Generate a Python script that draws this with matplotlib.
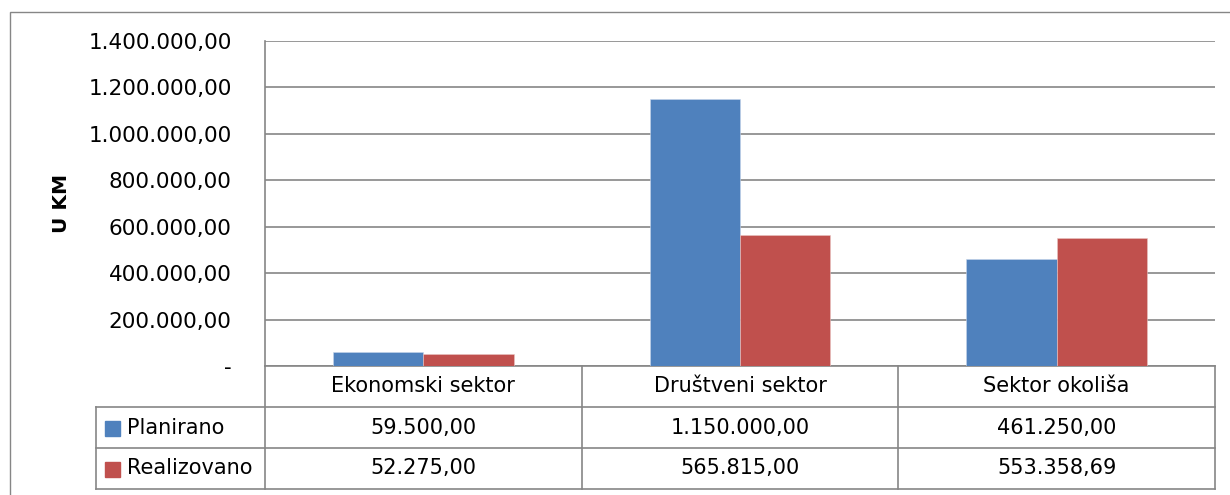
import matplotlib
matplotlib.use("Agg")
import matplotlib.pyplot as plt
import numpy as np
from matplotlib.patches import Rectangle
from matplotlib.lines import Line2D
from matplotlib.ticker import FuncFormatter, MultipleLocator

categories = ["Ekonomski sektor", "Društveni sektor", "Sektor okoliša"]
series_names = ["Planirano", "Realizovano"]
planirano = [59500.00, 1150000.00, 461250.00]
realizovano = [52275.00, 565815.00, 553358.69]
y_label = "U KM"

colors = ["#4F81BD", "#C0504D"]
grid_c = "#868686"

W, H = 1230, 495
fig = plt.figure(figsize=(W / 100, H / 100), dpi=100)
plt.rcParams['font.family'] = ['DejaVu Sans']

# outer chart border
fig.add_artist(Rectangle((10 / W, -0.1), 1.2, 1 - 12 / H + 0.1, transform=fig.transFigure,
                         fill=False, edgecolor=grid_c, linewidth=1.0))

L, R, T, B = 265, 1215, 41, 366
ax = fig.add_axes([L / W, 1 - B / H, (R - L) / W, (B - T) / H])


def fmt_num(v):
    s = f"{v:,.2f}"
    return s.replace(",", "X").replace(".", ",").replace("X", ".")


def tick_fmt(v, pos):
    if abs(v) < 1e-9:
        return "-"
    return fmt_num(v)


x = np.arange(len(categories))
bw = 1 / 3.5
ax.bar(x - bw / 2, planirano, bw, color=colors[0], edgecolor="#c8d6ea", linewidth=0.4, zorder=3)
ax.bar(x + bw / 2, realizovano, bw, color=colors[1], edgecolor="#e8c4c3", linewidth=0.4, zorder=3)

ax.set_xlim(-0.5, len(categories) - 0.5)
ax.set_ylim(0, 1400000)
ax.yaxis.set_major_locator(MultipleLocator(200000))
ax.yaxis.set_major_formatter(FuncFormatter(tick_fmt))
ax.grid(axis="y", color=grid_c, linewidth=1.2, zorder=0)
ax.set_xticks([])
ax.tick_params(axis="y", length=0, pad=24, labelsize=15.5)
for s in ["top", "right"]:
    ax.spines[s].set_visible(False)
for s in ["left", "bottom"]:
    ax.spines[s].set_color(grid_c)
    ax.spines[s].set_linewidth(1.2)

ax.set_ylabel(y_label, fontsize=14.5, fontweight="bold")
ax.yaxis.set_label_coords((71 - L) / (R - L), 0.5)

# data table below
rh = 41 / (B - T)
left_col = (96 - L) / (R - L)
ax_w = R - L
bt = ax.get_xaxis_transform()
lkw = dict(color=grid_c, linewidth=1.2, clip_on=False)
for b in np.arange(len(categories) + 1) - 0.5:
    ax.add_line(Line2D([b, b], [0, -3 * rh], transform=bt, **lkw))
for r in [1, 2, 3]:
    ax.add_line(Line2D([left_col, 1], [-r * rh, -r * rh], transform=ax.transAxes, **lkw))
ax.add_line(Line2D([left_col, left_col], [-rh, -3 * rh], transform=ax.transAxes, **lkw))

for i, c in enumerate(categories):
    ax.text(i, -0.5 * rh, c, transform=bt, ha="center", va="center", fontsize=15)
for r, (name, vals) in enumerate(zip(series_names, [planirano, realizovano])):
    yc = -(r + 1.5) * rh
    sq_w = 15 / ax_w
    sq_h = 15 / (B - T)
    ax.add_patch(Rectangle(((105 - L) / ax_w, yc - sq_h / 2 - 0.002), sq_w, sq_h, transform=ax.transAxes,
                           color=colors[r], clip_on=False))
    ax.text((127 - L) / ax_w, yc, name, transform=ax.transAxes, ha="left", va="center", fontsize=15)
    for i, v in enumerate(vals):
        ax.text(i, yc, fmt_num(v), transform=bt, ha="center", va="center", fontsize=15)

fig.savefig("out.png", dpi=100)
